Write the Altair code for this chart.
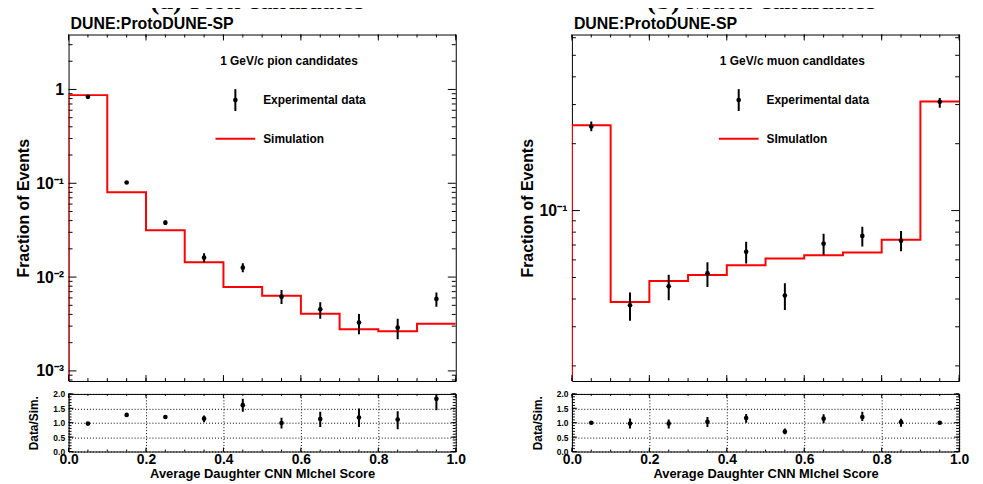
import altair as alt
import pandas as pd

# ---------------- data ----------------
bin_edges = [0.0, 0.1, 0.2, 0.3, 0.4, 0.5, 0.6, 0.7, 0.8, 0.9, 1.0]
bin_centers = [0.05, 0.15, 0.25, 0.35, 0.45, 0.55, 0.65, 0.75, 0.85, 0.95]

pion_sim = [0.87, 0.080, 0.0315, 0.0144, 0.00785, 0.00634, 0.00407, 0.00278, 0.00265, 0.00319]
pion_data = [0.835, 0.102, 0.038, 0.0161, 0.0126, 0.00618, 0.00454, 0.00327, 0.00289, 0.00585]
pion_data_lo = [0.80, 0.098, 0.036, 0.0144, 0.01125, 0.00518, 0.0036, 0.00246, 0.00217, 0.00484]
pion_data_hi = [0.87, 0.106, 0.040, 0.0179, 0.0140, 0.00729, 0.0054, 0.00404, 0.0036, 0.00683]
pion_ratio = [0.97, 1.27, 1.20, 1.14, 1.61, 0.99, 1.13, 1.18, 1.11, 1.83]
pion_ratio_lo = [0.94, 1.24, 1.15, 1.02, 1.38, 0.80, 0.85, 0.85, 0.77, 1.43]
pion_ratio_hi = [1.00, 1.30, 1.25, 1.25, 1.83, 1.17, 1.38, 1.49, 1.40, 2.00]

muon_sim = [0.242, 0.0388, 0.0482, 0.0513, 0.0568, 0.0608, 0.063, 0.0647, 0.074, 0.31]
muon_data = [0.239, 0.0375, 0.0456, 0.0522, 0.0652, 0.0415, 0.071, 0.0769, 0.0732, 0.309]
muon_data_lo = [0.2275, 0.0319, 0.0395, 0.0453, 0.0578, 0.0357, 0.0632, 0.0689, 0.0656, 0.29]
muon_data_hi = [0.252, 0.0428, 0.0515, 0.0586, 0.0725, 0.0471, 0.0787, 0.0846, 0.081, 0.321]
muon_ratio = [1.00, 0.97, 0.97, 1.03, 1.16, 0.69, 1.14, 1.20, 1.02, 1.00]
muon_ratio_lo = [0.96, 0.80, 0.80, 0.85, 1.00, 0.60, 0.98, 1.06, 0.86, 0.97]
muon_ratio_hi = [1.04, 1.15, 1.11, 1.20, 1.30, 0.80, 1.29, 1.38, 1.14, 1.03]

PION_YDOMAIN = [0.00078, 3.85]
MUON_YDOMAIN = [0.0171, 0.62]
RATIO_YDOMAIN = [0.0, 2.0]
XDOMAIN = [0.0, 1.0]

x_label_values = [0.0, 0.2, 0.4, 0.6, 0.8, 1.0]
ratio_label_values = [0.0, 0.5, 1.0, 1.5, 2.0]

# ---------------- layout / style ----------------
W = 390
HM = 349
HR = 58
HS = 14
FONT = "Liberation Sans"
RED = "#ff0000"

one = pd.DataFrame({"k": [0]})


def log_ticks(lo, hi):
    major, minor = [], []
    for e in range(-5, 2):
        for k in range(1, 10):
            v = round(k * 10.0 ** e, 8)
            if lo <= v <= hi:
                (major if k == 1 else minor).append(v)
    return major, minor


x_minor_ticks = [round(0.05 * k, 2) for k in range(21)]
ratio_minor_ticks = [round(0.1 * k, 1) for k in range(21)]


def x_tick_layers(vals, length, H, xs, xa):
    df = pd.DataFrame({"t": vals})
    base = alt.Chart(df).mark_rule(color="black", strokeWidth=1)
    X = alt.X("t:Q", scale=xs, axis=xa)
    return [
        base.encode(x=X, y=alt.value(H), y2=alt.value(H - length)),
        base.encode(x=X, y=alt.value(0), y2=alt.value(length)),
    ]


def y_tick_layers(vals, length, ys, ya):
    df = pd.DataFrame({"t": vals})
    base = alt.Chart(df).mark_rule(color="black", strokeWidth=1)
    Y = alt.Y("t:Q", scale=ys, axis=ya)
    return [
        base.encode(y=Y, x=alt.value(0), x2=alt.value(length)),
        base.encode(y=Y, x=alt.value(W), x2=alt.value(W - length)),
    ]


def main_panel(sim, data, lo, hi, ydomain, label_vals, header, sim_label):
    xs = alt.Scale(domain=XDOMAIN, nice=False, zero=False)
    ys = alt.Scale(type="log", domain=ydomain, nice=False, zero=False)
    expr = ("datum.value >= 0.5 ? '1' : datum.value >= 0.05 ? '10\u207b\u00b9' : "
            "datum.value >= 0.005 ? '10\u207b\u00b2' : '10\u207b\u00b3'")
    ya = alt.Axis(values=label_vals, labelExpr=expr, ticks=False, domain=False, grid=False,
                  labelFontSize=16, labelFontWeight="bold", labelColor="black", labelPadding=5,
                  title="Fraction of Events", titleFontSize=16, titleFontWeight="bold",
                  titleColor="black", titleX=-45, titleY=HM / 2, titleAngle=270,
                  titleAlign="center", titleBaseline="middle")
    xa = None

    xsim = [bin_edges[0]] + bin_edges[:-1] + [bin_edges[-1]]
    ysim = [ydomain[0]] + list(sim) + [sim[-1]]
    sim_df = pd.DataFrame({"x": xsim, "y": ysim, "i": list(range(len(xsim)))})
    pts_df = pd.DataFrame({"x": bin_centers, "v": data, "lo": lo, "hi": hi})

    layers = []
    layers.append(alt.Chart(sim_df).mark_line(color=RED, strokeWidth=2, interpolate="step-after",
                                              clip=True).encode(
        x=alt.X("x:Q", scale=xs, axis=xa), y=alt.Y("y:Q", scale=ys, axis=ya), order="i:Q"))
    layers.append(alt.Chart(pts_df).mark_rule(color="black", strokeWidth=2, clip=True).encode(
        x=alt.X("x:Q", scale=xs, axis=xa), y=alt.Y("lo:Q", scale=ys, axis=ya), y2="hi:Q"))
    layers.append(alt.Chart(pts_df).mark_point(filled=True, color="black", size=22, opacity=1,
                                               shape="circle").encode(
        x=alt.X("x:Q", scale=xs, axis=xa), y=alt.Y("v:Q", scale=ys, axis=ya)))

    maj, mnr = log_ticks(ydomain[0], ydomain[1])
    layers += y_tick_layers(mnr, 4, ys, ya)
    layers += y_tick_layers(maj, 8, ys, ya)
    layers += x_tick_layers(x_minor_ticks, 3, HM, xs, xa)
    layers += x_tick_layers(x_label_values, 6, HM, xs, xa)

    # legend (annotation)
    txt = dict(font=FONT, fontSize=12, fontWeight="bold", color="black", baseline="middle")
    layers.append(alt.Chart(one).mark_text(text=header, align="center", **txt).encode(
        x=alt.value(222), y=alt.value(27)))
    layers.append(alt.Chart(one).mark_rule(color="black", strokeWidth=2).encode(
        x=alt.value(168), y=alt.value(55), y2=alt.value(77)))
    layers.append(alt.Chart(one).mark_point(filled=True, color="black", size=22, opacity=1).encode(
        x=alt.value(168), y=alt.value(66)))
    layers.append(alt.Chart(one).mark_text(text="Experimental data", align="left", **txt).encode(
        x=alt.value(196), y=alt.value(66)))
    layers.append(alt.Chart(one).mark_rule(color=RED, strokeWidth=2).encode(
        x=alt.value(148), x2=alt.value(188), y=alt.value(105)))
    layers.append(alt.Chart(one).mark_text(text=sim_label, align="left", **txt).encode(
        x=alt.value(196), y=alt.value(105)))

    return alt.layer(*layers).properties(
        width=W, height=HM,
        title=alt.TitleParams("DUNE:ProtoDUNE-SP", anchor="start", frame="group", fontSize=16,
                              font=FONT, fontWeight="bold", color="black", baseline="alphabetic",
                              offset=7, dx=2, dy=18))


def ratio_panel(ratio, lo, hi):
    xs = alt.Scale(domain=XDOMAIN, nice=False, zero=False)
    ys = alt.Scale(domain=RATIO_YDOMAIN, nice=False, zero=False)
    xa = alt.Axis(values=x_label_values, format=".1f", labelFlush=False, ticks=False, domain=False,
                  grid=True, gridDash=[1, 2], gridColor="black", gridOpacity=1, gridWidth=1,
                  labelFontSize=14, labelFontWeight="bold", labelColor="black", labelPadding=1,
                  title="Average Daughter CNN MIchel Score", titleFontSize=13,
                  titleFontWeight="bold", titleColor="black", titleY=26, titleX=W / 2,
                  titleBaseline="alphabetic", titleAlign="center")
    ya = alt.Axis(values=ratio_label_values, format=".1f", ticks=False, domain=False,
                  grid=True, gridDash=[1, 2], gridColor="black", gridOpacity=1, gridWidth=1,
                  labelFontSize=8.5, labelFontWeight="bold", labelColor="black", labelPadding=4,
                  title="Data/Sim.", titleFontSize=12, titleFontWeight="bold", titleColor="black",
                  titleX=-35, titleY=HR / 2, titleAngle=270, titleAlign="center",
                  titleBaseline="middle")
    df = pd.DataFrame({"x": bin_centers, "v": ratio, "lo": lo, "hi": hi})
    layers = [
        alt.Chart(df).mark_rule(color="black", strokeWidth=2, clip=True).encode(
            x=alt.X("x:Q", scale=xs, axis=xa), y=alt.Y("lo:Q", scale=ys, axis=ya), y2="hi:Q"),
        alt.Chart(df).mark_point(filled=True, color="black", size=22, opacity=1, clip=True).encode(
            x=alt.X("x:Q", scale=xs, axis=xa), y=alt.Y("v:Q", scale=ys, axis=ya)),
    ]
    layers += y_tick_layers(ratio_minor_ticks, 3, ys, ya)
    layers += y_tick_layers(ratio_label_values, 5, ys, ya)
    layers += x_tick_layers(x_minor_ticks, 2, HR, xs, xa)
    layers += x_tick_layers(x_label_values, 4, HR, xs, xa)
    return alt.layer(*layers).properties(width=W, height=HR)


def strip(tag, name, x0):
    return alt.layer(
        alt.Chart(one).mark_text(text=tag, font="Liberation Serif", fontSize=28, fontWeight="bold",
                                 align="left", baseline="alphabetic", color="black").encode(
            x=alt.value(x0), y=alt.value(1)),
        alt.Chart(one).mark_text(text=name, font="Liberation Serif", fontSize=28,
                                 align="left", baseline="alphabetic", color="black").encode(
            x=alt.value(x0 + 40), y=alt.value(1)),
    ).properties(width=W, height=HS, view=alt.ViewBackground(stroke=None))


panels = [
    strip("(a)", "Pion candidates", 82),
    strip("(b)", "Muon candidates", 75),
    main_panel(pion_sim, pion_data, pion_data_lo, pion_data_hi, PION_YDOMAIN,
               [0.001, 0.01, 0.1, 1.0], "1 GeV/c pion candidates", "Simulation"),
    main_panel(muon_sim, muon_data, muon_data_lo, muon_data_hi, MUON_YDOMAIN,
               [0.1], "1 GeV/c muon candldates", "SImulatIon"),
    ratio_panel(pion_ratio, pion_ratio_lo, pion_ratio_hi),
    ratio_panel(muon_ratio, muon_ratio_lo, muon_ratio_hi),
]

chart = alt.concat(*panels, columns=2, spacing={"row": 13, "column": 117}, bounds="flush").properties(
    padding={"left": 7, "top": -23, "right": 5, "bottom": 0},
    background="white",
).configure(font=FONT).configure_view(stroke="black", strokeWidth=1)

chart.save("out.html", embed_options={"renderer": "svg", "actions": False})
